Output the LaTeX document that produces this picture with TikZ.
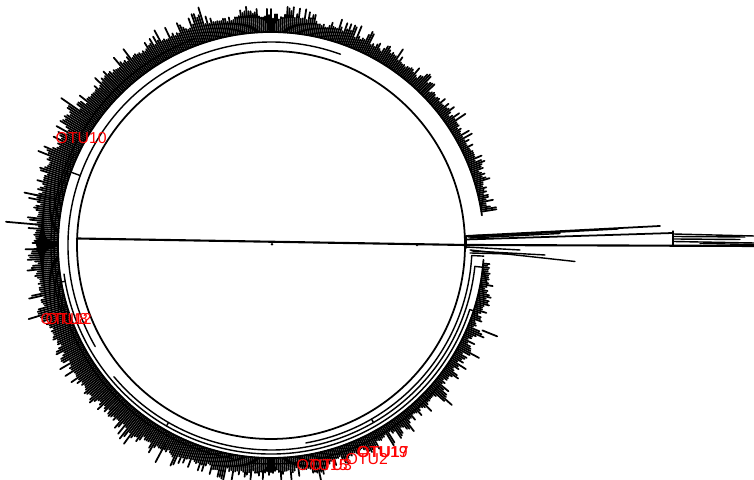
\documentclass[tikz,border=0pt]{standalone}
\usepackage{fontspec}
\setmainfont{Liberation Sans}
\begin{document}
\begin{tikzpicture}[x=0.01cm,y=-0.01cm,line cap=round,line join=round,
  br/.style={line width=0.5pt},
  thinbr/.style={line width=0.4pt},
  spike/.style={line width=0.5pt},
  lab/.style={text=red,font=\fontsize{4.5pt}{5pt}\selectfont,inner sep=0pt,anchor=west}]
\useasboundingbox (0,0) rectangle (754,480);
\coordinate (C) at (271,245);
\pgfmathsetseed{4242}
\begin{scope}[shift={(271,245)}]
  % inner circle
  \draw[br] (0:194) arc[start angle=0,end angle=360,radius=194];
  % ring arcs
  \draw[br] (4:213) arc[start angle=4,end angle=352,radius=213];
  \draw[thinbr] (3:201) arc[start angle=3,end angle=80,radius=201];
  \draw[thinbr] (3:201) -- (3:213);
  \draw[thinbr] (6:205) arc[start angle=6,end angle=140,radius=205];
  \draw[thinbr] (6:205) -- (6:213);
  \draw[thinbr] (18:209) arc[start angle=18,end angle=172,radius=209];
  \draw[thinbr] (18:209) -- (18:213);
  \draw[thinbr] (100:217) arc[start angle=100,end angle=205,radius=217];
  \draw[thinbr] (150:203) arc[start angle=150,end angle=290,radius=203];
  \draw[thinbr] (40:219) arc[start angle=40,end angle=95,radius=219];
  \draw[thinbr] (160:220) arc[start angle=160,end angle=250,radius=220];
  \draw[thinbr] (60:201) -- (60:205);
  \draw[thinbr] (120:205) -- (120:209);
  \draw[thinbr] (170:209) -- (170:213);
  \draw[thinbr] (200:203) -- (200:213);
  % fringe of leaves
  \foreach \a in {5,5.5,...,351} {
    \pgfmathsetmacro\ro{217+16*(1+cos(\a-185))/2+4*rnd+12*rnd^4+11*(max(0,sin(\a*29+40*sin(\a*7))))^3*rnd}
    \draw[spike] (\a:213) -- (\a:\ro);
  }
  % a few longer leaves
  \draw[spike] (192:216) -- (192:252);
  \draw[spike] (185:230) -- (185:266);
  \draw[spike] (215:232) -- (215:256);
  \draw[spike] (118:225) -- (118:246);
  \draw[spike] (22:228) -- (22:244);
  \draw[spike] (95:222) -- (95:232);
\end{scope}
% main axis line
\coordinate (L) at (77,238.5);
\coordinate (M) at (465,245);
\coordinate (R) at (754,246);
\draw[line width=0.6pt] (L) -- (M) -- (R);
\fill (272,244.3) circle[radius=1.3];
\fill (417,245) circle[radius=1.3];
% right-side branches
\coordinate (J1) at (466,236);
\coordinate (J2) at (466,248);
\draw[br] (J1) -- (J2);
\draw[br] (J1) -- (660,226);
\draw[thinbr] (468,237) -- (618,229);
\draw[thinbr] (470,238) -- (560,233.5);
\draw[br] (466,239.5) -- (673,233);
\coordinate (K1) at (673,231.5);
\coordinate (K2) at (673,245.5);
\draw[line width=0.8pt] (K1) -- (K2);
\draw[thinbr] (673,234) -- (754,236);
\draw[thinbr] (673,236.5) -- (745,237);
\draw[thinbr] (673,239) -- (740,239.5);
\draw[thinbr] (673,241.5) -- (754,243);
\draw[thinbr] (700,243.5) -- (754,244.5);
\draw[thinbr] (475,235.5) -- (530,234);
\draw[thinbr] (466,247) -- (520,250);
\draw[thinbr] (470,250) -- (575,261.5);
\draw[thinbr] (472,251) -- (545,255);
\draw[thinbr] (470,253) -- (510,254);
% labels
\node[lab] (o10) at (55,138) {OTU10};
\node[lab] (o12) at (40,319) {OTU12};
\node[lab] (o8) at (45,319) {OTU8};
\node[lab] (o15) at (296,465) {OTU15};
\node[lab] (o3) at (309,465) {OTU3};
\node[lab] (o2) at (345,459) {OTU2};
\node[lab] (o19) at (356,452) {OTU19};
\node[lab] (o17) at (357,452) {OTU17};
\end{tikzpicture}
\end{document}
